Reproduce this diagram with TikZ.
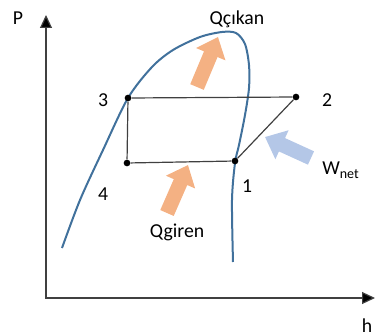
\documentclass[tikz,border=0pt]{standalone}
\usepackage{fontspec}
\setmainfont{Carlito}
\usetikzlibrary{arrows.meta}
\begin{document}
\begin{tikzpicture}[x=0.75pt,y=-0.75pt,
  lbl/.style={anchor=base,inner sep=0pt,font=\fontsize{14.8}{17}\selectfont},
  dot/.style={circle,fill=black,inner sep=0pt,minimum size=5pt},
  cyc/.style={draw=black!75,line width=0.9pt},
  axis/.style={draw=black!75,line width=0.9pt,{Triangle[length=9.75pt,width=9pt,fill=black]}-{Triangle[length=9.75pt,width=9pt,fill=black]}},
  fat/.style={line width=11pt,-{Triangle[length=14pt,width=23pt]}}]
\definecolor{domeBlue}{HTML}{41719C}
\definecolor{heatOrange}{HTML}{F4B183}
\definecolor{workBlue}{HTML}{B4C7E7}
\useasboundingbox (0,0) rectangle (375,335);
% axes
\coordinate (o) at (46,298);
\coordinate (ptop) at (46,15);
\coordinate (hend) at (375,298);
\draw[axis] (ptop) -- (o) -- (hend);
\node[lbl] (Plab) at (18,25) {P};
\node[lbl] (hlab) at (367,332) {h};
% saturation dome
\draw[domeBlue,line width=1.5pt] plot[smooth] coordinates {
  (62,248) (80,200) (103,150) (128,98) (152,67) (173,50) (200,37) (222,32)
  (236,33) (245,44) (249,65) (249,88) (245,115) (239,145) (235,163) (232,200) (233,262)};
% cycle states
\foreach \n/\x/\y in {1/235/161,2/296/97,3/128/98,4/127/163} {
  \node[dot] (p\n) at (\x,\y) {};
}
\draw[cyc] (p3) -- (p2) -- (p1) -- (p4) -- (p3);
\foreach \n/\x/\y in {1/247/192,2/327/107,3/103/107,4/103/200} {
  \node[lbl] (l\n) at (\x,\y) {\n};
}
% heat and work
\coordinate (qcTail) at (197,87);
\coordinate (qcTip) at (218,37);
\coordinate (qgTail) at (167,213);
\coordinate (qgTip) at (188,165);
\coordinate (wTail) at (311,158);
\coordinate (wTip) at (265,137);
\draw[fat,heatOrange] (qcTail) -- (qcTip);
\draw[fat,heatOrange] (qgTail) -- (qgTip);
\draw[fat,workBlue] (wTail) -- (wTip);
\node[lbl] (qclab) at (237,25) {Qçıkan};
\node[lbl] (qglab) at (177,237) {Qgiren};
\node[lbl,anchor=base west] (wlab) at (322,175) {W\raisebox{-0.35ex}{\fontsize{10.5}{12}\selectfont net}};
\end{tikzpicture}
\end{document}
